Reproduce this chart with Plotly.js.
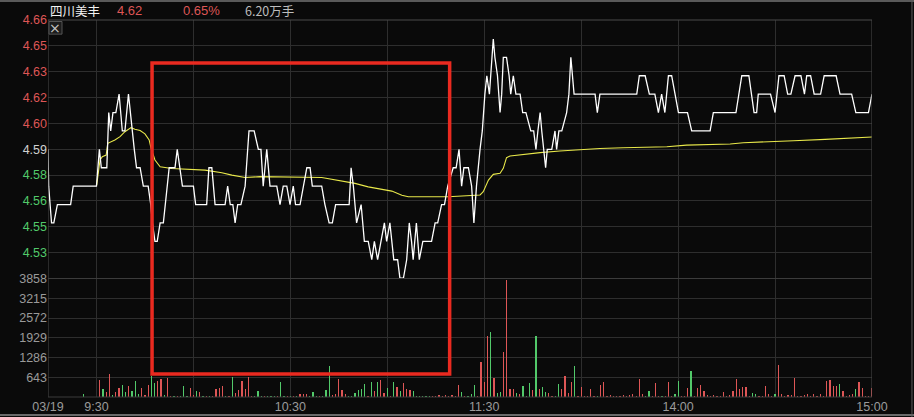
<!DOCTYPE html>
<html>
<head>
<meta charset="utf-8">
<script src="https://cdn.plot.ly/plotly-3.0.1.min.js"></script>
<style>
html,body{margin:0;padding:0;background:#0a0a0a;}
#chart{width:914px;height:417px;}
</style>
</head>
<body>
<div id="chart"></div>
<script>
// ---- data (time axis: minutes of trading since 09:15; 11:30 and 13:00 share one slot) ----
const preClose = 4.59;
const stockName = "四川美丰";
const lastPrice = "4.62";
const changePct = "0.65%";
const volumeText = "6.20万手";

// minute line [minute, price]
const pricePoints = [
[0,4.59],[0.2,4.57],[1.1,4.55],[1.8,4.55],[2.9,4.56],[7.0,4.56],[7.8,4.57],[15,4.57],
[15.9,4.59],[16.5,4.58],[18.2,4.58],[18.8,4.61],[19.4,4.60],[20.1,4.61],[21,4.61],[22,4.62],[23,4.60],[23.8,4.60],
[24.9,4.62],[26,4.60],[26.7,4.59],[27.4,4.58],[28.5,4.58],[29.5,4.57],[31,4.57],[31.8,4.56],[32.3,4.55],[33.1,4.54],
[33.8,4.54],[34.7,4.55],[35.7,4.55],[37.5,4.58],[39.3,4.58],[40,4.59],[40.9,4.58],[41.6,4.57],[45,4.57],[45.7,4.56],
[49.1,4.56],[49.8,4.58],[50.7,4.58],[51.7,4.56],[54.8,4.56],[55.6,4.57],[56.4,4.56],[57.2,4.56],[57.9,4.55],[58.7,4.56],
[59.7,4.56],[61,4.57],[62.2,4.60],[63.8,4.60],[65.1,4.59],[65.9,4.59],[66.6,4.57],[67.7,4.59],[68.7,4.57],[70.8,4.57],
[71.8,4.56],[72.8,4.57],[73.9,4.57],[74.9,4.56],[75.9,4.57],[76.6,4.56],[78,4.56],[79,4.57],[80.1,4.58],[81.1,4.58],
[81.8,4.57],[84.7,4.57],[85.7,4.56],[87,4.55],[88,4.55],[89,4.56],[93.2,4.56],[93.8,4.58],[94.5,4.57],[95.5,4.55],
[96.9,4.56],[97.9,4.54],[99.1,4.54],[100.2,4.53],[101,4.54],[102,4.53],[103,4.54],[104.1,4.55],[104.8,4.54],[105.8,4.55],
[107,4.53],[108.2,4.53],[108.9,4.52],[110,4.52],[111,4.53],[111.8,4.55],[112.5,4.54],[113,4.53],[114,4.55],[114.9,4.53],
[116,4.54],[118.7,4.54],[119.8,4.55],[120.6,4.55],[121.8,4.56],[122.7,4.56],[123.7,4.57],[125.4,4.58],[126.3,4.58],[127.2,4.59],
[128,4.57],[128.7,4.58],[130.1,4.58],[131.1,4.57],[131.8,4.55],[132.6,4.57],[133.7,4.59],[134.4,4.60],[135.2,4.62],[135.8,4.63],
[136.6,4.62],[137.3,4.64],[137.8,4.65],[138.3,4.64],[139.1,4.63],[139.9,4.61],[140.4,4.62],[140.9,4.64],[141.9,4.64],[142.7,4.63],
[143.2,4.62],[144,4.63],[144.8,4.62],[146.1,4.62],[146.9,4.61],[147.9,4.61],[149.4,4.60],[150.3,4.60],[151,4.59],[151.6,4.60],
[152.3,4.61],[152.8,4.60],[153.3,4.59],[154,4.58],[154.5,4.59],[155.9,4.59],[156.9,4.60],[157.4,4.59],[158.1,4.60],[159,4.60],
[160.5,4.61],[161.2,4.62],[161.8,4.64],[162.3,4.63],[162.8,4.62],[169.3,4.62],[170,4.61],[170.8,4.62],[182.2,4.62],[183,4.63],
[184.8,4.63],[186.1,4.62],[187.8,4.62],[188.9,4.61],[189.9,4.62],[190.9,4.61],[192,4.63],[193,4.63],[195.1,4.61],[197.9,4.61],
[199.2,4.60],[204.9,4.60],[205.9,4.61],[212.9,4.61],[214.7,4.63],[216.9,4.63],[218.5,4.61],[219.3,4.61],[219.8,4.62],[223.6,4.62],
[225,4.61],[226.2,4.63],[227.8,4.63],[228.9,4.62],[229.9,4.62],[231.2,4.63],[233,4.63],[234.1,4.62],[234.8,4.63],[236,4.63],
[237.1,4.62],[239.1,4.62],[240.2,4.63],[243.9,4.63],[245.1,4.62],[248.7,4.62],[250,4.61],[253.9,4.61],[255,4.62]
];

// average price line [minute, price]
const avgPoints = [
[15.07,4.5705],[16.1,4.5842],[16.8,4.586],[18,4.5869],[18.5,4.5933],[20.7,4.5951],[22.3,4.5969],[23.8,4.5996],
[25.7,4.6018],[26.9,4.6009],[28.5,4.6002],[30,4.5984],[31.3,4.5951],[31.9,4.5905],[33.1,4.5842],[34.7,4.5805],
[38.3,4.5796],[42.4,4.5791],[48.6,4.5787],[53.8,4.5773],[56.9,4.576],[61,4.5747],[65.6,4.5752],[84.7,4.5747],
[88.8,4.5733],[95,4.5715],[99.1,4.5696],[104.3,4.5678],[106.4,4.5673],[109.5,4.5651],[111.5,4.5642],[123.9,4.5642],
[131.6,4.5648],[133.7,4.5652],[134.7,4.567],[136.3,4.5733],[137.8,4.5764],[139.9,4.577],[140.9,4.5797],[141.9,4.5855],
[143,4.5864],[147.1,4.5873],[152.3,4.5882],[158.4,4.5891],[162.6,4.5896],[170.8,4.5905],[178,4.5909],[187.8,4.5912],
[191.5,4.5914],[197.6,4.5923],[211.1,4.5929],[215.2,4.5936],[221.4,4.5942],[230.7,4.5947],[240.5,4.5954],[248.7,4.5963],
[255,4.5967]
];

// volume bars: minute, volume (lots), side (u = up/red, d = down/green)
const volMinute = [11,
16,17,18,19,20,21,22,23,24,25,26,27,28,29,30,31,32,33,34,35,36,37,38,39,40,41,42,43,44,45,
46,47,48,49,50,51,52,53,54,55,56,57,58,59,60,61,62,63,64,65,66,67,68,69,70,71,72,73,74,75,
76,77,78,79,80,81,82,83,84,85,86,87,88,89,90,91,92,93,94,95,96,97,98,99,100,101,102,103,104,105,
106,107,108,109,110,111,112,113,114,115,116,117,118,119,120,121,122,123,124,125,126,127,128,129,130,131,132,133,134,135,
136,137,138,139,140,141,142,143,144,145,146,147,148,149,150,151,152,153,154,155,156,157,158,159,160,161,162,163,164,165,
166,167,168,169,170,171,172,173,174,175,176,177,178,179,180,181,182,183,184,185,186,187,188,189,190,191,192,193,194,195,
196,197,198,199,200,201,202,203,204,205,206,207,208,209,210,211,212,213,214,215,216,217,218,219,220,221,222,223,224,225,
226,227,228,229,230,231,232,233,234,235,236,237,238,239,240,241,242,243,244,245,246,247,248,249,250,251,252,253,254,255];
const volAmount = [85,
547,247,171,761,64,160,300,375,171,343,193,514,107,300,64,375,675,461,514,600,50,621,40,40,40,40,354,40,300,64,
193,171,40,40,40,40,268,300,354,40,40,643,140,214,514,247,643,40,40,193,40,40,40,40,20,20,482,40,40,40,
40,40,107,107,90,40,160,40,40,40,225,996,64,107,590,214,107,40,40,140,225,247,407,40,493,193,493,568,140,278,
40,482,332,193,440,247,214,193,40,40,40,40,20,20,40,64,40,64,40,64,20,386,171,40,40,85,386,40,1125,482,
1993,2100,621,140,171,1457,3800,247,247,140,85,354,40,461,214,1993,247,321,171,140,30,40,407,247,675,140,482,996,40,321,
20,40,247,40,40,375,482,20,64,30,40,40,64,40,64,85,40,590,107,40,193,40,461,40,40,40,482,40,85,514,
20,40,300,857,40,300,386,193,64,40,64,20,40,160,20,64,193,590,247,321,321,40,140,107,40,40,354,107,40,107,
1029,107,40,64,64,621,40,20,64,85,40,107,40,85,40,536,547,354,354,407,193,40,64,85,268,482,300,20,20,278];
const volSide = ["d",
"u","d","u","u","d","u","u","d","d","u","d","d","d","u","u","u","d","d","u","u","d","u","u","d","u","d","d","d","u","u",
"d","u","d","u","d","u","u","u","u","d","u","d","u","u","u","u","u","u","d","d","d","u","d","d","d","u","d","d","u","d",
"u","d","u","u","u","d","d","d","u","d","d","d","u","u","u","u","u","d","d","d","d","d","d","u","d","u","d","u","u","d",
"u","d","u","d","u","u","u","d","d","d","d","d","d","u","u","u","u","u","u","u","u","u","d","u","d","d","d","u","u","u",
"u","d","u","d","d","u","u","u","u","d","u","d","d","d","u","d","u","d","d","u","u","d","d","u","u","u","u","d","u","u",
"u","u","u","u","d","u","u","u","u","u","u","u","u","u","u","u","u","u","u","d","d","u","u","u","d","u","u","u","d","d",
"u","u","u","d","u","u","u","u","u","u","u","u","u","u","u","u","u","u","u","u","u","u","d","d","u","u","u","u","u","d",
"u","u","u","u","u","u","u","u","u","u","u","u","u","u","u","u","u","u","u","d","u","u","u","u","d","u","u","u","u","u"];

const timeTickVals = [0,15,45,75,105,135,165,195,225,255];
const timeTickText = ["03/19","9:30","","10:30","","11:30","","14:00","","15:00"];
const priceTickText = ["","4.53","4.55","4.56","4.58","4.59","4.60","4.62","4.63","4.65","4.66"];
const pctTickVals = [-1.5,-1.2,-0.9,-0.6,-0.3,0,0.3,0.6,0.9,1.2,1.5];
const pctTickText = ["","1.2%","0.9%","0.6%","0.3%","0.0%","0.3%","0.6%","0.9%","1.2%","1.5%"];
const volTickVals = [0,643,1286,1929,2572,3215,3858];
const volTickText = ["","643","1286","1929","2572","3215","3858"];

// ---- styling ----
const RED = "#de5656", GREEN = "#52c96a", NEUTRAL = "#d0d0d0", GRAY = "#a3a3a3";
const GRID = "#2e2e2e";
const BG = "#0a0a0a";
const NUMFONT = "Liberation Sans, Arial, sans-serif";
const CJKFONT = "Noto Sans CJK SC, Liberation Sans, sans-serif";

const priceLo = 4.5198, priceHi = 4.6603;
const priceTickVals = priceTickText.map((t, k) => priceLo + k * (priceHi - priceLo) / 10);
function colorFor(k) { return k < 5 ? GREEN : (k === 5 ? NEUTRAL : RED); }
const priceTickColored = priceTickText.map((t, k) => t ? `<span style="color:${colorFor(k)}">${t}</span>` : "");
const pctTickColored = pctTickText.map((t, k) => t ? `<span style="color:${colorFor(k)}">${t}</span>` : "");

const volColors = volSide.map(s => s === "u" ? RED : GREEN);

const traces = [
  {
    type: "bar", x: volMinute, y: volAmount, xaxis: "x", yaxis: "y3",
    width: 0.38, marker: {color: volColors, line: {width: 0}}, hoverinfo: "skip", showlegend: false
  },
  {
    type: "scatter", mode: "lines", x: avgPoints.map(p => p[0]), y: avgPoints.map(p => p[1]),
    xaxis: "x", yaxis: "y", line: {color: "#e8e84a", width: 1.1}, hoverinfo: "skip", showlegend: false
  },
  {
    type: "scatter", mode: "lines", x: pricePoints.map(p => p[0]), y: pricePoints.map(p => p[1]),
    xaxis: "x", yaxis: "y", line: {color: "#ffffff", width: 1.3}, hoverinfo: "skip", showlegend: false
  }
];

const PRICE_DOMAIN = [0.3143, 1];
const VOL_DOMAIN = [0, 0.3143];

const layout = {
  width: 914, height: 417,
  margin: {l: 48, r: 42, t: 20, b: 20, pad: 0},
  paper_bgcolor: BG, plot_bgcolor: BG,
  showlegend: false,
  bargap: 0,
  font: {family: NUMFONT, size: 12.5, color: GRAY},
  xaxis: {
    range: [0, 255], anchor: "y3",
    tickvals: timeTickVals, ticktext: timeTickText,
    showgrid: true, gridcolor: GRID, gridwidth: 1,
    zeroline: false, showline: false, ticks: "",
    tickfont: {family: NUMFONT, size: 12.5, color: "#9a9a9a"},
    fixedrange: true
  },
  yaxis: {
    domain: PRICE_DOMAIN, anchor: "x", range: [priceLo, priceHi],
    tickvals: priceTickVals, ticktext: priceTickColored,
    showgrid: true, gridcolor: GRID, zeroline: false, ticks: "",
    tickfont: {family: NUMFONT, size: 12.5}
  },
  yaxis2: {
    overlaying: "y", side: "right", anchor: "x", range: [-1.5, 1.5],
    tickvals: pctTickVals, ticktext: pctTickColored,
    showgrid: false, zeroline: true, zerolinecolor: "#5c5c5c", zerolinewidth: 1, ticks: "",
    tickfont: {family: NUMFONT, size: 12.5}
  },
  yaxis3: {
    domain: VOL_DOMAIN, anchor: "x", range: [0, 3858],
    tickvals: volTickVals, ticktext: volTickText,
    showgrid: true, gridcolor: GRID, zeroline: false, ticks: "",
    tickfont: {family: NUMFONT, size: 12.5, color: "#9a9a9a"}
  },
  shapes: [
    // plot borders
    {type: "line", xref: "x", yref: "paper", x0: 0, x1: 0, y0: 0, y1: 1, line: {color: "#4a4a4a", width: 1}},
    {type: "line", xref: "x", yref: "paper", x0: 255, x1: 255, y0: 0, y1: 1, line: {color: "#4a4a4a", width: 1}},
    {type: "line", xref: "paper", yref: "paper", x0: 0, x1: 1, y0: 1, y1: 1, line: {color: "#4a4a4a", width: 1}},
    {type: "line", xref: "paper", yref: "paper", x0: 0, x1: 1, y0: 0, y1: 0, line: {color: "#3a3a3a", width: 1}},
    {type: "line", xref: "paper", yref: "paper", x0: 0, x1: 1, y0: 0.3143, y1: 0.3143, line: {color: "#3c3c3c", width: 1}},
    // outer frame
    {type: "line", xref: "paper", yref: "paper", x0: -0.06, x1: 1.06, y0: 1.0504, y1: 1.0504, line: {color: "#5a5a5a", width: 2}},
    {type: "line", xref: "paper", yref: "paper", x0: -0.06, x1: 1.06, y0: -0.0477, y1: -0.0477, line: {color: "#6a6a6a", width: 2}},
    {type: "line", xref: "paper", yref: "paper", x0: 1.0485, x1: 1.0485, y0: -0.06, y1: 1.06, line: {color: "#5a5a5a", width: 1}},
    // close-button box in the top-left corner
    {type: "rect", xref: "paper", yref: "paper", x0: 0.0012, x1: 0.0170, y0: 0.9625, y1: 0.9960,
     line: {color: "#555555", width: 1}, fillcolor: "#1c1c1c", layer: "above"},
    // red highlight rectangle
    {type: "rect", xref: "x", yref: "paper", x0: 32.2, x1: 124.3, y0: 0.061, y1: 0.886,
     line: {color: "#ea2a20", width: 3.5}, fillcolor: "rgba(0,0,0,0)", layer: "above"}
  ],
  annotations: [
    {xref: "paper", yref: "paper", x: 0.0, y: 1.0265, xanchor: "left", yanchor: "middle", showarrow: false,
     text: stockName, font: {family: CJKFONT, size: 12.5, color: "#f2f2f2"}},
    {xref: "paper", yref: "paper", x: 0.0815, y: 1.0265, xanchor: "left", yanchor: "middle", showarrow: false,
     text: lastPrice, font: {family: NUMFONT, size: 13, color: RED}},
    {xref: "paper", yref: "paper", x: 0.1615, y: 1.0265, xanchor: "left", yanchor: "middle", showarrow: false,
     text: changePct, font: {family: NUMFONT, size: 13, color: RED}},
    {xref: "paper", yref: "paper", x: 0.2365, y: 1.0265, xanchor: "left", yanchor: "middle", showarrow: false,
     text: volumeText, font: {family: CJKFONT, size: 12.5, color: "#bdbdbd"}},
    {xref: "paper", yref: "paper", x: 0.0091, y: 0.9795, xanchor: "center", yanchor: "middle", showarrow: false,
     text: "×", font: {family: "DejaVu Sans, sans-serif", size: 14, color: "#c4c4c4"}}
  ]
};

Plotly.newPlot("chart", traces, layout, {displayModeBar: false, staticPlot: true});
</script>
</body>
</html>
